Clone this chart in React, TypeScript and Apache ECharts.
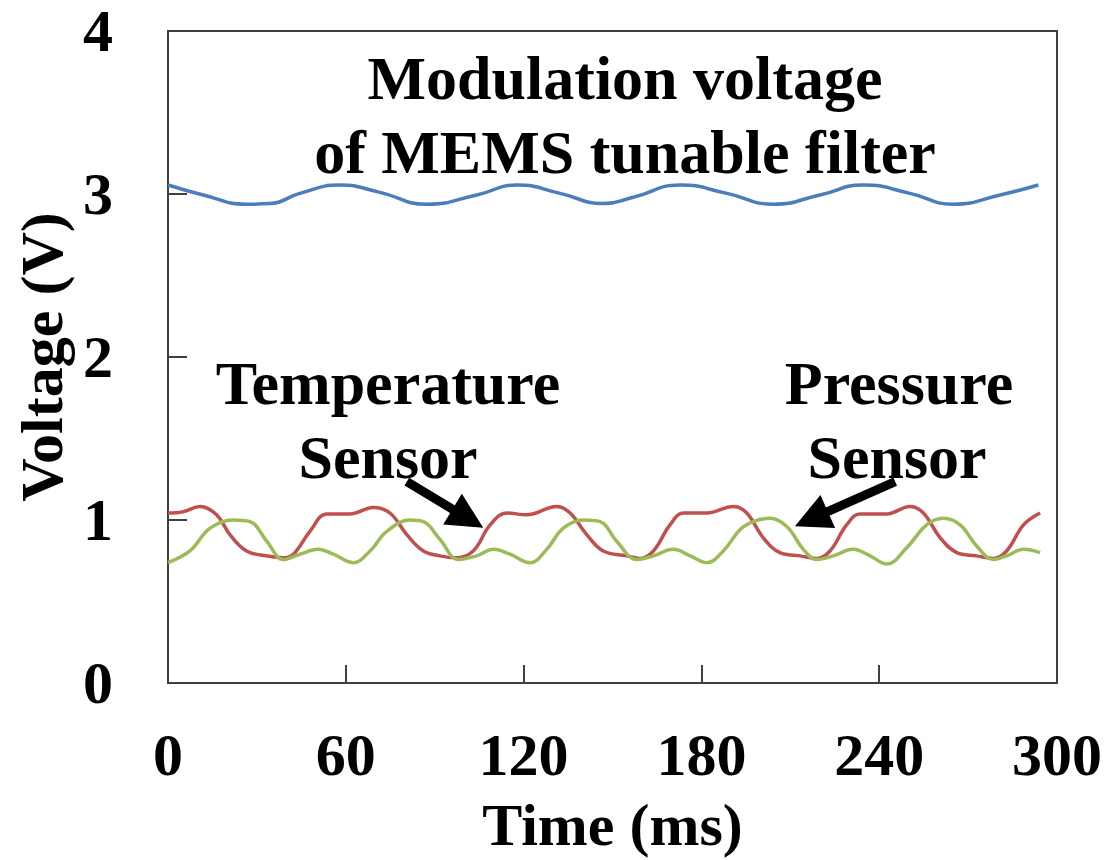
import React, { useEffect, useRef } from "react";
import * as echarts from "echarts";

const FONT = '"Liberation Serif", "Times New Roman", serif';

const xTicks = [0, 60, 120, 180, 240, 300];
const yTicks = [0, 1, 2, 3, 4];

// Modulation voltage of MEMS tunable filter (blue)
const modTime = [0, 11.9, 26.5, 34.4, 44.5, 58, 71.5, 87.3, 104.2, 117.7, 132.3, 146.9, 157, 172.8, 188.6, 204.3, 220, 234.6, 250.4, 265, 280.8, 293.7];
const modVolt = [3.055, 2.994, 2.937, 2.941, 3.004, 3.055, 3.01, 2.937, 2.994, 3.055, 3.004, 2.941, 2.98, 3.055, 3.004, 2.937, 2.994, 3.055, 3.004, 2.937, 2.994, 3.055];

// Temperature sensor (red)
const tempTime = [0, 5, 10.8, 16.4, 20.9, 26.5, 33.3, 38.9, 42.3, 47.9, 53.6, 61.4, 69.3, 74.9, 80.6, 86.2, 91.8, 97, 103, 108.7, 114.3, 121, 131.2, 135.7, 141.3, 146.9, 154.8, 159.3, 163.8, 169.4, 173.9, 181.8, 190.8, 195.3, 200.9, 206.5, 213.3, 218.9, 223.4, 229, 233.5, 242.5, 250.4, 254.9, 260.6, 266.2, 272.9, 278.5, 283, 288.7, 294.3];
const tempVolt = [1.043, 1.05, 1.083, 1.032, 0.91, 0.81, 0.78, 0.768, 0.79, 0.93, 1.037, 1.037, 1.077, 1.043, 0.91, 0.81, 0.78, 0.768, 0.81, 0.97, 1.043, 1.032, 1.083, 1.043, 0.91, 0.81, 0.78, 0.764, 0.81, 0.97, 1.043, 1.043, 1.083, 1.043, 0.89, 0.8, 0.78, 0.764, 0.81, 0.97, 1.037, 1.037, 1.083, 1.043, 0.89, 0.8, 0.78, 0.764, 0.81, 0.97, 1.043];

// Pressure sensor (green)
const presTime = [0, 7.4, 14.2, 22, 27.7, 33.3, 38.9, 44.5, 50.7, 55.8, 62.5, 68.2, 73.8, 81.7, 86.2, 91.8, 98, 104.2, 109.8, 115.4, 122.2, 127.8, 133.4, 140.1, 145.8, 151.4, 158.2, 163.8, 170.5, 176.2, 181.8, 187.4, 193, 197.5, 203.2, 208.8, 214.4, 218.9, 224.5, 231.2, 236.9, 242.5, 249.3, 256, 261.6, 267.3, 272.9, 278.5, 283, 288.7, 294.3];
const presVolt = [0.738, 0.81, 0.95, 1.0, 0.99, 0.87, 0.758, 0.79, 0.82, 0.79, 0.738, 0.81, 0.93, 1.0, 0.99, 0.88, 0.758, 0.78, 0.82, 0.79, 0.738, 0.82, 0.95, 1.0, 0.99, 0.87, 0.758, 0.78, 0.82, 0.78, 0.738, 0.81, 0.94, 0.99, 1.01, 0.96, 0.82, 0.758, 0.78, 0.82, 0.78, 0.73, 0.83, 0.97, 1.01, 0.97, 0.84, 0.758, 0.78, 0.82, 0.8];

// Arrow annotations [tail, head centre] in data coordinates
const tempArrow = [[80.6, 1.236], [101.2, 1.009]];
const presArrow = [[245.4, 1.236], [217.1, 1.007]];

const zip = (t: number[], v: number[]) => t.map((x, i) => [x, v[i]]);

export default function App() {
  const ref = useRef<HTMLDivElement>(null);
  useEffect(() => {
    if (!ref.current) return;
    const chart = echarts.init(ref.current, null, { renderer: "svg" });
    const labelStyle = { fontFamily: FONT, fontWeight: "bold" as const, fontSize: 60, color: "#000" };
    const arrowLine = (pts: number[][]) => ({
      silent: true,
      symbol: ["none", "triangle"],
      symbolSize: [36, 36],
      label: { show: false },
      lineStyle: { color: "#000", width: 9, type: "solid" },
      data: [[{ coord: pts[0] }, { coord: pts[1] }]],
    });
    const textEl = (text: string, x: number, y: number) => ({
      type: "text",
      x,
      y,
      style: {
        text,
        fill: "#000",
        font: `bold 62px ${FONT}`,
        textAlign: "center",
        textVerticalAlign: "middle",
      },
    });
    chart.setOption({
      animation: false,
      backgroundColor: "#fff",
      grid: {
        left: 168,
        right: 50,
        top: 31,
        bottom: 173,
        show: true,
        borderColor: "#404040",
        borderWidth: 2,
      },
      xAxis: {
        type: "value",
        min: xTicks[0],
        max: xTicks[xTicks.length - 1],
        interval: 60,
        name: "Time (ms)",
        nameLocation: "middle",
        nameGap: 112,
        nameTextStyle: { ...labelStyle },
        axisLine: { show: true, lineStyle: { color: "#404040", width: 2 } },
        axisTick: { show: true, inside: true, length: 18, lineStyle: { color: "#404040", width: 2 } },
        axisLabel: { ...labelStyle, margin: 42 },
        splitLine: { show: false },
      },
      yAxis: {
        type: "value",
        min: yTicks[0],
        max: yTicks[yTicks.length - 1],
        interval: 1,
        name: "Voltage (V)",
        nameLocation: "middle",
        nameGap: 96,
        nameRotate: 90,
        nameTextStyle: { ...labelStyle },
        axisLine: { show: true, lineStyle: { color: "#404040", width: 2 } },
        axisTick: { show: true, inside: true, length: 19, lineStyle: { color: "#404040", width: 2 } },
        axisLabel: { ...labelStyle, lineHeight: 48, margin: 55 },
        splitLine: { show: false },
      },
      series: [
        {
          type: "line",
          name: "Modulation voltage",
          data: zip(modTime, modVolt),
          smooth: 0.5,
          showSymbol: false,
          lineStyle: { color: "#4A7EBB", width: 3.5 },
        },
        {
          type: "line",
          name: "Temperature Sensor",
          data: zip(tempTime, tempVolt),
          smooth: 0.4,
          showSymbol: false,
          lineStyle: { color: "#C0504D", width: 3.5 },
          markLine: arrowLine(tempArrow),
        },
        {
          type: "line",
          name: "Pressure Sensor",
          data: zip(presTime, presVolt),
          smooth: 0.4,
          showSymbol: false,
          lineStyle: { color: "#9BBB59", width: 3.5 },
          markLine: arrowLine(presArrow),
        },
      ],
      graphic: [
        textEl("Modulation voltage", 625, 78),
        textEl("of MEMS tunable filter", 625, 152),
        textEl("Temperature", 388, 383),
        textEl("Sensor", 388, 457),
        textEl("Pressure", 899, 383),
        textEl("Sensor", 897, 457),
      ],
    });
    return () => chart.dispose();
  }, []);
  return (
    <div
      ref={ref}
      style={{ position: "fixed", left: 0, top: 0, width: 1107, height: 860 }}
    />
  );
}
